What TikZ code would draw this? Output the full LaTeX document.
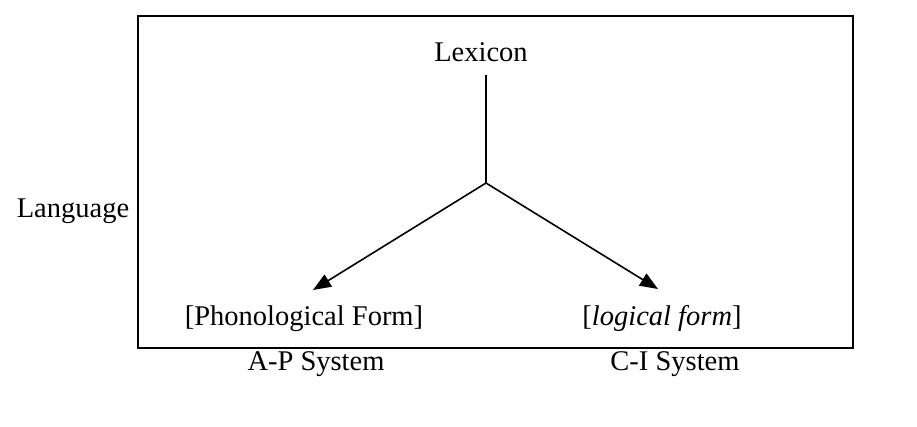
\documentclass[tikz,border=0pt]{standalone}
\usepackage{fontspec}
\setmainfont{Liberation Serif}
\usetikzlibrary{arrows.meta, positioning}

\begin{document}
\begin{tikzpicture}[x=1pt, y=-1pt,
  lbl/.style={anchor=base, inner sep=0pt, font=\fontsize{28.5}{34}\selectfont},
  flecha/.style={line width=1.6pt, -{Triangle[length=18pt,width=14pt]}}]
\useasboundingbox (0,0) rectangle (917,426);
% Marco
\draw[line width=2pt] (138,16) rectangle (853,348);
\node[lbl] (lexicon) at (481,61) {Lexicon};
\node[lbl] (lang) at (73,217) {Language};
\node[lbl] (pf) at (304,325) {[Phonological Form]};
\node[lbl] (lf) at (662,325) {[\textit{logical form}]};
\node[lbl] (ap) at (316,370) {A-P System};
\node[lbl] (ci) at (675,370) {C-I System};
\coordinate (top) at (486,75);
\coordinate (mid) at (486,183);
\coordinate (pftip) at (313,290);
\coordinate (lftip) at (658,289);
\draw[line width=1.6pt] (top) -- (mid);
\draw[flecha] (mid) -- (pftip);
\draw[flecha] (mid) -- (lftip);
\end{tikzpicture}
\end{document}
